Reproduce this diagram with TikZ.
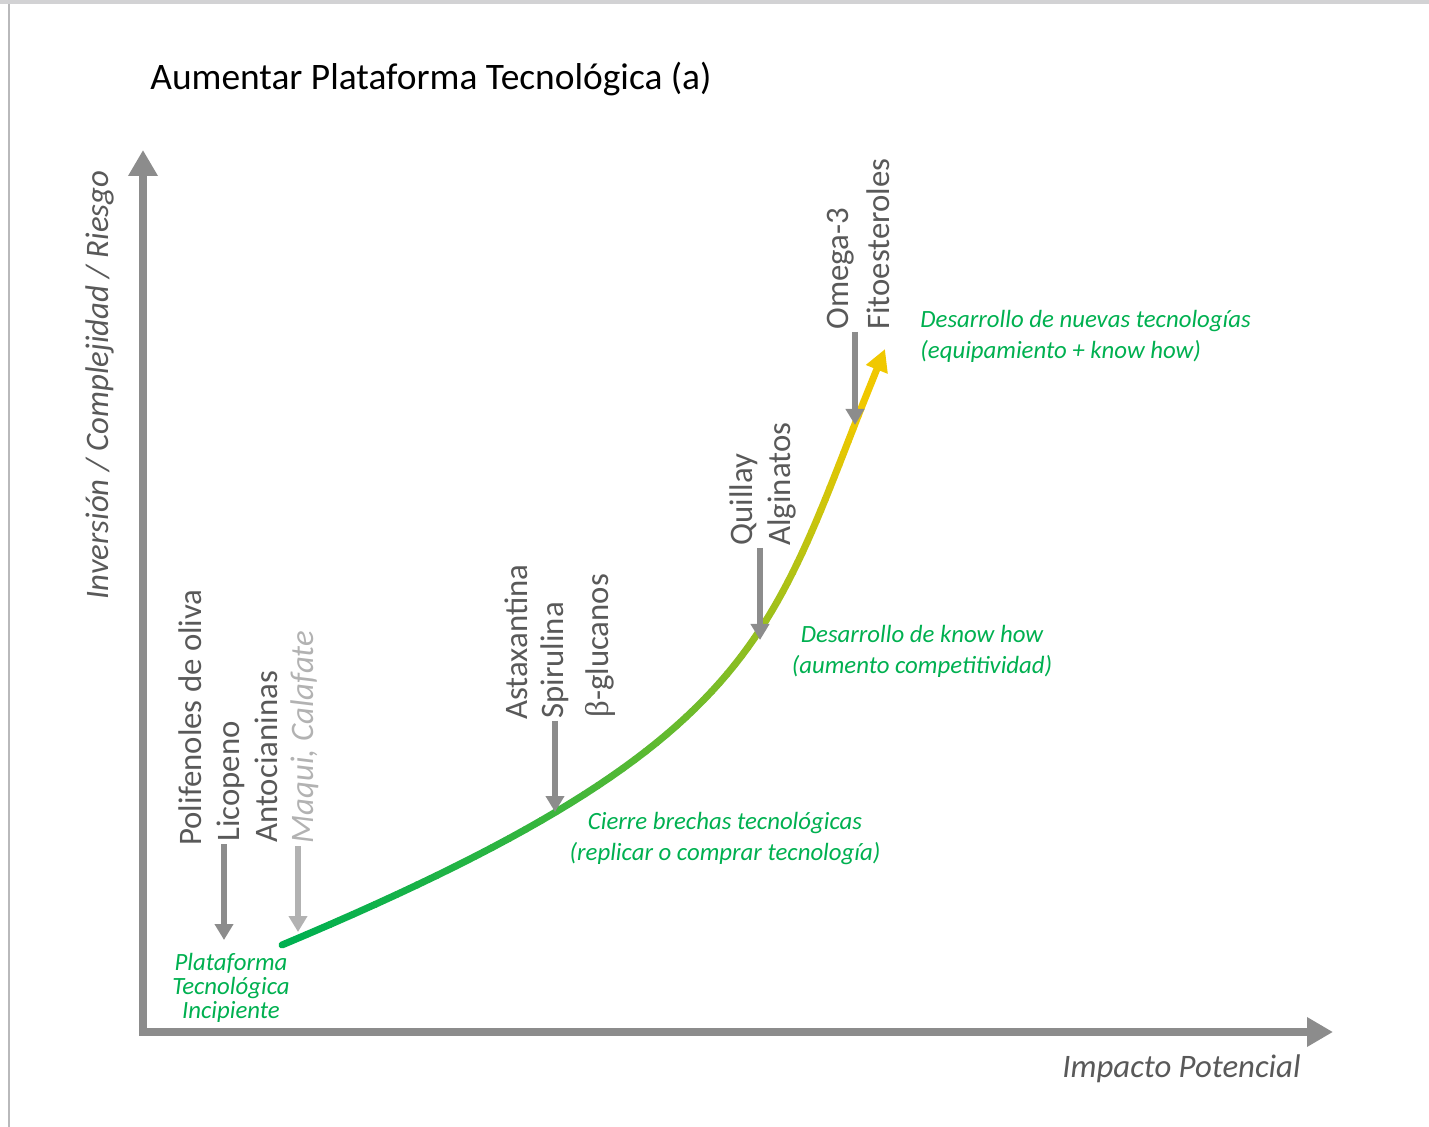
\documentclass[tikz,border=0pt]{standalone}
\usepackage{fontspec}
\setmainfont{Carlito}
\newfontfamily\betafont{Liberation Serif}
\usepackage{tikz}
\usetikzlibrary{arrows.meta,calc}
\definecolor{axisgray}{RGB}{140,140,140}
\definecolor{labelgray}{RGB}{89,89,89}
\definecolor{palegray}{RGB}{178,178,178}
\definecolor{framegray}{RGB}{210,210,212}
\definecolor{stagegreen}{RGB}{0,176,80}
\definecolor{curvegreen}{RGB}{0,176,80}
\definecolor{curveyellow}{RGB}{240,200,0}

\begin{document}
\begin{tikzpicture}[x=0.5pt,y=-0.5pt,
  product/.style={rotate=90,anchor=base west,inner sep=0pt,text=labelgray,font=\fontsize{16.4}{19}\selectfont},
  stage/.style={text=stagegreen,inner sep=0pt,font=\fontsize{12.4}{15.5}\selectfont\itshape},
  pointer/.style={draw=axisgray,line width=3pt,shorten <=1pt,-{Triangle[length=8pt,width=9pt]}},
  axis/.style={draw=axisgray,line width=4.25pt,line join=miter,{Triangle[length=13pt,width=14pt]}-{Triangle[length=13pt,width=14pt]}}]
\useasboundingbox (0,0) rectangle (1429,1127);
\fill[framegray] (0,0) rectangle (1429,4.5);
\draw[framegray!70!gray,line width=1pt] (8.5,4.5) -- (8.5,1127);

\node[anchor=base west,inner sep=0pt,font=\fontsize{18.7}{22}\selectfont] (title) at (150,90) {Aumentar Plataforma Tecnológica (a)};

% axes
\coordinate (origin) at (143,1032);
\coordinate (ytip) at (143,150);
\coordinate (xtip) at (1333,1032);
\draw[axis] (ytip) -- (origin) -- (xtip);
\node[rotate=90,anchor=base,inner sep=0pt,text=labelgray,font=\fontsize{16.4}{19}\selectfont\itshape] (ylabel) at (108,385) {Inversión / Complejidad / Riesgo};
\node[anchor=base east,inner sep=0pt,text=labelgray,font=\fontsize{16.4}{19}\selectfont\itshape] (xlabel) at (1301,1077) {Impacto Potencial};

% curve, green to yellow
\coordinate (start) at (282,945);
\coordinate (top) at (885,349);
\foreach \i in {0,...,60}
  \path (start) .. controls (782,735) and (768,631) .. (top) coordinate[pos=\i/60] (k\i);
\foreach \i [evaluate=\i as \j using int(\i+1), evaluate=\i as \p using 100*\i/55] in {0,...,55}
  \draw[curveyellow!\p!curvegreen,line width=3.5pt,line cap=round] (k\i) -- (k\j);
\draw[curveyellow,line width=3.5pt,-{Triangle[length=11pt,width=11pt]}] (k56) -- (k60);

% products
\node[product] (polifenoles) at (201,846) {Polifenoles de oliva};
\node[product] (licopeno) at (239,842) {Licopeno};
\node[product] (antocianinas) at (277,843) {Antocianinas};
\node[product,text=palegray,font=\fontsize{16.4}{19}\selectfont\itshape] (maqui) at (313,844) {Maqui, Calafate};
\node[product] (astaxantina) at (527,720) {Astaxantina};
\node[product] (spirulina) at (563,719) {Spirulina};
\node[product] (glucanos) at (608,718) {{\betafont β}-glucanos};
\node[product] (quillay) at (752,546) {Quillay};
\node[product] (alginatos) at (790,546) {Alginatos};
\node[product] (omega) at (848,330) {Omega-3};
\node[product] (fitoesteroles) at (889,330) {Fitoesteroles};

\coordinate (tipL) at (224,940);
\coordinate (tipM) at (298,932);
\coordinate (tipS) at (555,812);
\coordinate (tipQ) at (760,640);
\coordinate (tipO) at (855,425);
\draw[pointer] (tipL |- licopeno.west) -- (tipL);
\draw[pointer,draw=palegray] (tipM |- maqui.west) -- (tipM);
\draw[pointer] (tipS |- spirulina.west) -- (tipS);
\draw[pointer] (tipQ |- quillay.west) -- (tipQ);
\draw[pointer] (tipO |- omega.west) -- (tipO);

% stages
\node[stage,anchor=west,align=left] (newtech) at (920,336) {Desarrollo de nuevas tecnologías\\(equipamiento + know how)};
\node[stage,align=center] (knowhow) at (922,651) {Desarrollo de know how\\(aumento competitividad)};
\node[stage,align=center] (gaps) at (725,839) {Cierre brechas tecnológicas\\(replicar o comprar tecnología)};
\node[stage,align=center,font=\fontsize{12.4}{12}\selectfont\itshape] (incipient) at (231,988) {Plataforma\\Tecnológica\\Incipiente};
\end{tikzpicture}
\end{document}
